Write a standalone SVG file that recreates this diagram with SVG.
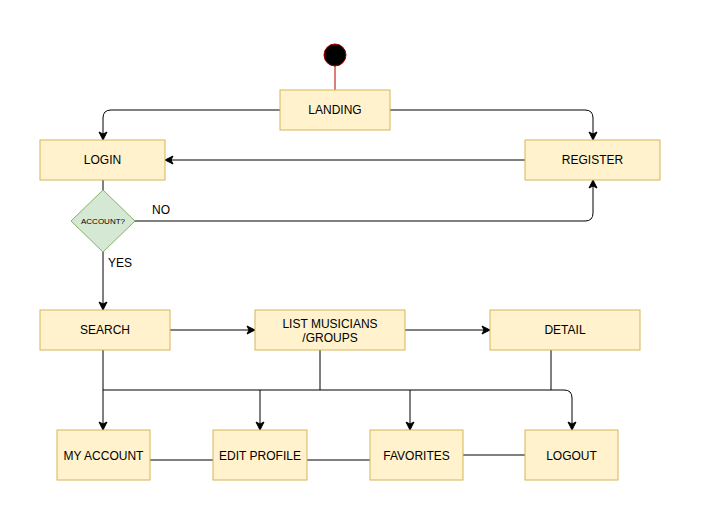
<svg xmlns="http://www.w3.org/2000/svg" width="701" height="521" viewBox="0 0 701 521">
<style>
.box{fill:#fff2cc;stroke:#d6b656;stroke-width:1}
.dia{fill:#d5e8d4;stroke:#82b366;stroke-width:1}
.t{font-family:"Liberation Sans",Arial,sans-serif;font-size:12px;fill:#000;text-anchor:middle}
.s{font-family:"Liberation Sans",Arial,sans-serif;font-size:8px;fill:#000;text-anchor:middle}
.e{fill:none;stroke:#000;stroke-width:1}
.a{fill:none;stroke:#000;stroke-width:1;marker-end:url(#arr)}
</style>
<defs>
<marker id="arr" markerWidth="10" markerHeight="10" refX="8" refY="5" orient="auto" markerUnits="userSpaceOnUse">
<path d="M1,1 L9,5 L1,9 L3,5 Z" fill="#000" stroke="#000" stroke-width="1"/>
</marker>
</defs>
<rect width="701" height="521" fill="#fff"/>
<g id="connectors">
<line x1="335" y1="66" x2="335" y2="90" stroke="#b20000" stroke-width="1"/>
<path class="a" d="M280,110 H111 Q103,110 103,118 V139"/>
<path class="a" d="M390,110 H585 Q593,110 593,118 V139"/>
<path class="a" d="M525,160 H166"/>
<path class="e" d="M103,180 V190"/>
<path class="a" d="M135,221 H585 Q593,221 593,213 V181"/>
<path class="a" d="M103,252 V309"/>
<path class="a" d="M170,330 H254"/>
<path class="a" d="M405,330 H489"/>
<path class="a" d="M103,350 V429"/>
<path class="a" d="M103,390 H564 Q572,390 572,398 V429"/>
<path class="e" d="M320,350 V390"/>
<path class="e" d="M551,350 V390"/>
<path class="a" d="M260,390 V429"/>
<path class="a" d="M410,390 V429"/>
<path class="e" d="M150,460 H213"/>
<path class="e" d="M307,460 H370"/>
<path class="e" d="M463,455 H525"/>
<text class="t" x="161" y="214">NO</text>
<text class="t" x="120" y="267">YES</text>
</g>
<g id="start"><circle cx="335" cy="55" r="11" fill="#000" stroke="#b20000" stroke-width="1"/></g>
<g id="landing"><rect class="box" x="280" y="90" width="110" height="40"/><text class="t" x="335" y="114">LANDING</text></g>
<g id="login"><rect class="box" x="40" y="140" width="125" height="40"/><text class="t" x="102.5" y="164">LOGIN</text></g>
<g id="register"><rect class="box" x="525" y="140" width="135" height="40"/><text class="t" x="592.5" y="164">REGISTER</text></g>
<g id="account"><path class="dia" d="M103,190 L135,221 L103,252 L71,221 Z"/><text class="s" x="103" y="224">ACCOUNT?</text></g>
<g id="search"><rect class="box" x="40" y="310" width="130" height="40"/><text class="t" x="105" y="334">SEARCH</text></g>
<g id="list"><rect class="box" x="255" y="310" width="150" height="40"/><text class="t" x="330" y="328">LIST MUSICIANS</text><text class="t" x="330" y="342">/GROUPS</text></g>
<g id="detail"><rect class="box" x="490" y="310" width="150" height="40"/><text class="t" x="565" y="334">DETAIL</text></g>
<g id="myaccount"><rect class="box" x="57" y="430" width="93" height="50"/><text class="t" x="103.5" y="460">MY ACCOUNT</text></g>
<g id="editprofile"><rect class="box" x="213" y="430" width="94" height="50"/><text class="t" x="260" y="460">EDIT PROFILE</text></g>
<g id="favorites"><rect class="box" x="370" y="430" width="93" height="50"/><text class="t" x="416.5" y="460">FAVORITES</text></g>
<g id="logout"><rect class="box" x="525" y="430" width="93" height="50"/><text class="t" x="571.5" y="460">LOGOUT</text></g>
</svg>
